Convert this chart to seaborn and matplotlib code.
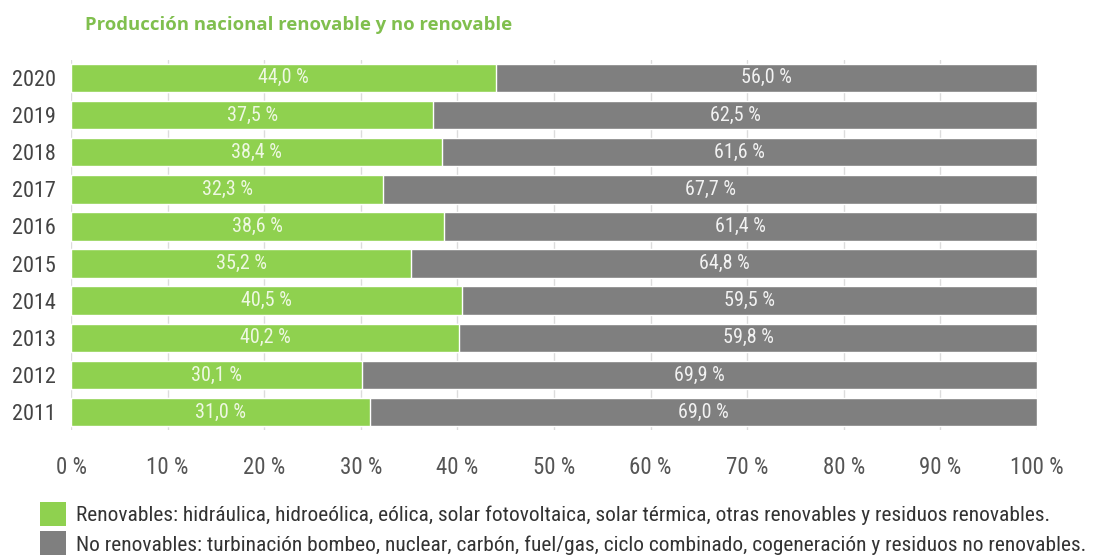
import matplotlib
matplotlib.use("Agg")
import matplotlib.pyplot as plt
from matplotlib.patches import Patch
from matplotlib import font_manager as fm
import seaborn as sns
import pandas as pd

years = ["2020", "2019", "2018", "2017", "2016", "2015", "2014", "2013", "2012", "2011"]
renovable = [44.0, 37.5, 38.4, 32.3, 38.6, 35.2, 40.5, 40.2, 30.1, 31.0]
no_renovable = [56.0, 62.5, 61.6, 67.7, 61.4, 64.8, 59.5, 59.8, 69.9, 69.0]
x_ticks = [0, 10, 20, 30, 40, 50, 60, 70, 80, 90, 100]
legend_labels = [
    "Renovables: hidráulica, hidroeólica, eólica, solar fotovoltaica, solar térmica, otras renovables y residuos renovables.",
    "No renovables: turbinación bombeo, nuclear, carbón, fuel/gas, ciclo combinado, cogeneración y residuos no renovables.",
]
title = "Producción nacional renovable y no renovable"

GREEN = "#8fd14f"
GRAY = "#7f7f7f"

sns.set_theme(style="white")
plt.rcParams["font.family"] = ["DejaVu Sans"]


def narrow_font():
    """Find an installed condensed/narrow regular face, if any."""
    best = None
    for f in fm.fontManager.ttflist:
        name = f.name.lower()
        stretch = f.stretch
        narrow = ("condensed" in name or "narrow" in name
                  or stretch in ("condensed", "semi-condensed", "extra-condensed")
                  or (isinstance(stretch, int) and stretch < 500))
        if not narrow or f.style != "normal":
            continue
        w = f.weight if isinstance(f.weight, int) else 400
        if w not in (400,) and f.weight not in ("normal", "regular"):
            continue
        score = 0 if "roboto" in name else 1 if "liberation" in name else 2
        if best is None or score < best[0]:
            best = (score, f.fname)
    if best:
        return fm.FontProperties(fname=best[1])
    return fm.FontProperties(family="DejaVu Sans", stretch="condensed")


base = narrow_font()


def fp(size):
    p = base.copy()
    p.set_size(size)
    return p


df = pd.DataFrame({"year": years, "ren": renovable, "noren": no_renovable})
df["total"] = df["ren"] + df["noren"]

fig = plt.figure(figsize=(10.97, 5.59), dpi=100)
ax = fig.add_axes([71 / 1097, 1 - 430 / 559, (1037 - 71) / 1097, (430 - 60) / 559])

# stacked horizontal bars: gray total behind, green renewable share in front
sns.barplot(data=df, y="year", x="total", order=years, color=GRAY, width=0.77,
            saturation=1, ax=ax, zorder=2)
sns.barplot(data=df, y="year", x="ren", order=years, color=GREEN, width=0.77,
            saturation=1, ax=ax, zorder=3)

for i, (r, n) in enumerate(zip(renovable, no_renovable)):
    ax.text(r / 2, i, f"{r:.1f} %".replace(".", ","), ha="center", va="center",
            fontproperties=fp(14.5), color="#eef8e2", zorder=4)
    ax.text(r + n / 2, i, f"{n:.1f} %".replace(".", ","), ha="center", va="center",
            fontproperties=fp(14.5), color="#f2f2f2", zorder=4)

ax.set_xlim(0, 100)
ax.set_ylim(9.48, -0.48)
ax.set_xticks(x_ticks)
ax.set_xticklabels([f"{t} %" for t in x_ticks])
for lab in ax.get_xticklabels():
    lab.set_fontproperties(fp(16.5))
    lab.set_color("#555555")
for lab in ax.get_yticklabels():
    lab.set_fontproperties(fp(16))
    lab.set_color("#444444")
ax.tick_params(axis="x", length=0, pad=19)
ax.tick_params(axis="y", length=0, pad=11)
ax.set_xlabel("")
ax.set_ylabel("")
ax.grid(axis="x", color="#dcdcdc", linewidth=1, zorder=0)
ax.set_axisbelow(True)
for s in ax.spines.values():
    s.set_visible(False)

fig.text(85 / 1097, 1 - 25 / 559, title, fontsize=13.3, fontweight="bold",
         color="#80bf4e", ha="left", va="center", family=["Open Sans", "DejaVu Sans"])

# legend text sized so the longest line ends near the right margin
renderer = fig.canvas.get_renderer()
size = 15.0
widths = []
for lbl in legend_labels:
    probe = fig.text(0, 0, lbl, fontproperties=fp(size))
    widths.append(probe.get_window_extent(renderer).width)
    probe.remove()
size = size * (1089 - 76) / max(widths)

handles = [Patch(facecolor=GREEN, edgecolor="none"), Patch(facecolor=GRAY, edgecolor="none")]
fig.legend(handles, legend_labels, loc="upper left", bbox_to_anchor=(40 / 1097, 1 - 502 / 559),
           frameon=False, prop=fp(size), handlelength=1.2, handleheight=1.35,
           handletextpad=0.5, labelspacing=0.25, borderaxespad=0, borderpad=0,
           labelcolor="#333333")

fig.savefig("out.png", dpi=100, facecolor="white")
